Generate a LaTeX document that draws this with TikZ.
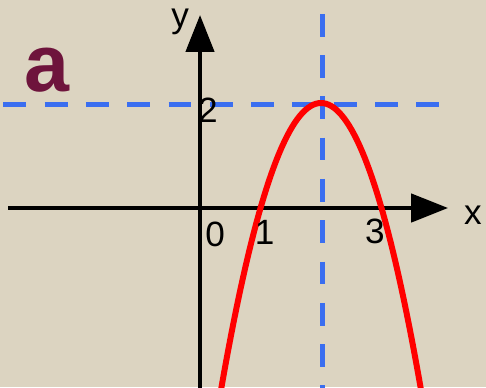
\documentclass[tikz,border=0pt]{standalone}
\usepackage{fontspec}
\setmainfont{Liberation Sans}
\usetikzlibrary{arrows.meta}
\definecolor{paper}{RGB}{220,212,193}
\definecolor{dashblue}{RGB}{58,110,240}
\definecolor{maroon}{RGB}{110,20,60}
\begin{document}
\begin{tikzpicture}[x=1.21cm,y=1.05cm,>={Triangle[length=21pt,width=16pt]},
    axis/.style={->,line width=2.3pt},
    guide/.style={dashblue,line width=2.8pt,dash pattern=on 13pt off 10.5pt},
    lbl/.style={font=\fontsize{20}{20}\selectfont,inner sep=0pt}]
            \fill[paper] (-3.306,-3.41) rectangle (4.727,3.962);
            \useasboundingbox (-3.306,-3.41) rectangle (4.727,3.962);
            \coordinate (xl) at (-3.17,0);
            \coordinate (xr) at (4.10,0);
            \coordinate (yb) at (0,-3.45);
            \coordinate (yt) at (0,3.676);
            \coordinate (hl) at (-3.25,1.97);
            \coordinate (hr) at (4.12,1.97);
            \coordinate (vt) at (2.02,3.70);
            \coordinate (vb) at (2.02,-3.45);
            \draw[guide] (hl) -- (hr);
            \draw[guide] (vt) -- (vb);
            \draw[axis] (xl) -- (xr);
            \draw[axis] (yb) -- (yt);
            \clip (-3.306,-3.41) rectangle (4.727,3.962);
            \draw[red,line width=3.4pt,domain=0.33:3.71,samples=80] plot (\x,{-2*(\x-2)^2+2});
            \node[lbl] (ylab) at (-0.33,3.54) {y};
            \node[lbl] (xlab) at (4.51,-0.13) {x};
            \node[lbl] (two) at (0.13,1.87) {2};
            \node[lbl] (zero) at (0.25,-0.50) {0};
            \node[lbl] (one) at (1.07,-0.46) {1};
            \node[lbl] (three) at (2.89,-0.44) {3};
            \node[font=\fontsize{46}{46}\selectfont\bfseries,text=maroon] (a) at (-2.53,2.62) {a};
        \end{tikzpicture}
\end{document}
